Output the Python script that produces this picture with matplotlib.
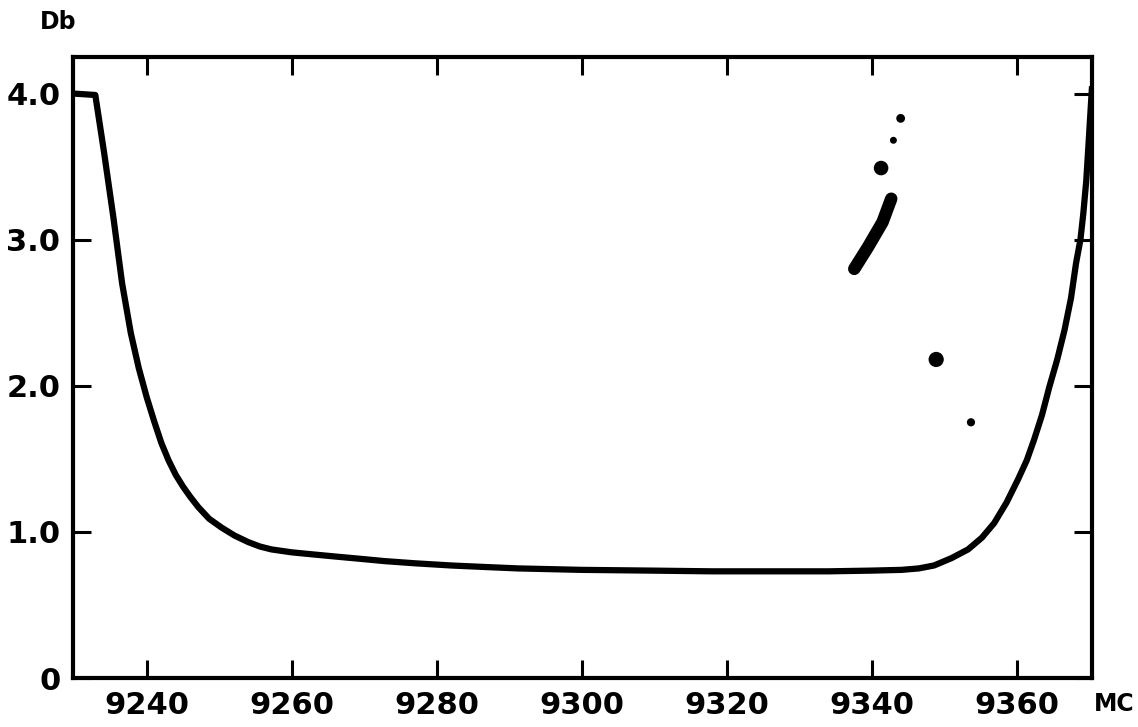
import matplotlib
matplotlib.use('Agg')
import matplotlib.pyplot as plt
import numpy as np

# loss curve (MC vs Db)
freq = [9229.8, 9232.9, 9234.1, 9235.4, 9236.6, 9237.8, 9238.9, 9240.0, 9241.0,
        9242.0, 9243.0, 9244.0, 9245.0, 9246.0, 9247.1, 9248.6, 9250.3, 9252.1,
        9254.0, 9255.6, 9257.2, 9260.0, 9263.1, 9266.3, 9269.6, 9272.8, 9277.0,
        9282.0, 9286.5, 9291.2, 9300.0, 9309.6, 9318.0, 9326.0, 9334.0, 9340.0,
        9344.1, 9346.5, 9348.6, 9351.0, 9353.3, 9355.2, 9356.9, 9358.6, 9360.2,
        9361.4, 9362.4, 9363.5, 9364.5, 9365.6, 9366.6, 9367.5, 9368.2, 9368.8,
        9369.2, 9369.6, 9369.9, 9370.4]
loss = [4.0, 3.99, 3.60, 3.15, 2.70, 2.36, 2.12, 1.92, 1.76,
        1.61, 1.49, 1.39, 1.31, 1.24, 1.17, 1.09, 1.03, 0.975,
        0.93, 0.90, 0.88, 0.86, 0.845, 0.83, 0.815, 0.80, 0.785,
        0.77, 0.76, 0.75, 0.74, 0.735, 0.73, 0.73, 0.73, 0.735,
        0.74, 0.75, 0.77, 0.82, 0.88, 0.96, 1.06, 1.20, 1.36,
        1.49, 1.63, 1.80, 1.99, 2.18, 2.38, 2.60, 2.84, 3.00,
        3.18, 3.40, 3.64, 4.05]

# specks of dirt on the original scan
speck_x = [9344.0, 9343.0, 9341.3, 9348.9, 9353.7]
speck_y = [3.83, 3.68, 3.49, 2.18, 1.75]
speck_size = [40, 25, 110, 120, 35]
streak_x = [9337.6, 9339.5, 9341.5, 9342.7]
streak_y = [2.80, 2.95, 3.12, 3.28]

x_ticks = [9240, 9260, 9280, 9300, 9320, 9340, 9360]
y_ticks = [0, 1.0, 2.0, 3.0, 4.0]
y_tick_labels = ['0', '1.0', '2.0', '3.0', '4.0']

fig = plt.figure(figsize=(11.38, 7.27), dpi=100)
ax = fig.add_axes([0.064, 0.0674, 0.8956, 0.8542])

ax.plot(freq, loss, color='black', lw=4.5, solid_capstyle='butt', solid_joinstyle='round')
ax.plot(streak_x, streak_y, color='black', lw=9, solid_capstyle='round')
ax.scatter(speck_x, speck_y, s=speck_size, color='black', marker='o', linewidths=0)

ax.set_xlim(9229.8, 9370.4)
ax.set_ylim(0, 4.25)
ax.set_xticks(x_ticks)
ax.set_yticks(y_ticks)
ax.set_yticklabels(y_tick_labels)

for side in ax.spines.values():
    side.set_linewidth(3)
ax.tick_params(direction='in', length=13, width=2.2, top=True, right=True,
               labelsize=22, pad=9, color='black')

for lab in ax.get_xticklabels() + ax.get_yticklabels():
    lab.set_fontweight('bold')

fig.text(0.035, 0.97, 'Db', fontsize=17, fontweight='bold', va='center', ha='left')
fig.text(0.9615, 0.031, 'MC', fontsize=17, fontweight='bold', va='center', ha='left')

fig.savefig('out.png', dpi=100, facecolor='white')
